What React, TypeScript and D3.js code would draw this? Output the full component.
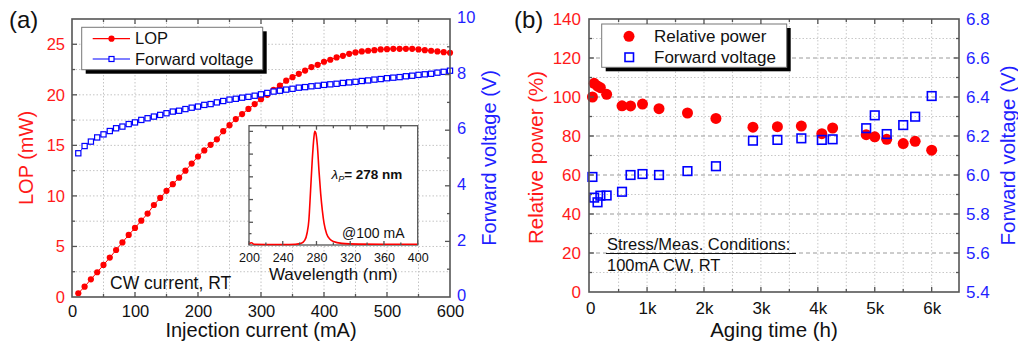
import { useEffect, useRef } from 'react'
import * as d3 from 'd3'

// ---- panel (a): LOP / forward voltage vs injection current ----
const CURRENT_MA = [
  10, 20, 30, 40, 50, 60, 70, 80, 90, 100, 110, 120, 130, 140, 150, 160, 170, 180, 190, 200,
  210, 220, 230, 240, 250, 260, 270, 280, 290, 300, 310, 320, 330, 340, 350, 360, 370, 380, 390, 400,
  410, 420, 430, 440, 450, 460, 470, 480, 490, 500, 510, 520, 530, 540, 550, 560, 570, 580, 590, 600,
]
const LOP_MW = [
  0.37, 1.02, 1.75, 2.45, 3.17, 3.9, 4.65, 5.4, 6.14, 6.83, 7.55, 8.25, 9.1, 9.8, 10.5, 11.16, 11.8, 12.5, 13.2, 13.9,
  14.5, 15.05, 15.6, 16.4, 17.0, 17.6, 18.1, 18.6, 19.08, 19.57, 20.0, 20.5, 20.9, 21.4, 21.75, 22.08, 22.4, 22.74, 22.97, 23.27,
  23.47, 23.7, 23.86, 24.06, 24.19, 24.29, 24.36, 24.42, 24.49, 24.52, 24.55, 24.55, 24.55, 24.55, 24.49, 24.42, 24.36, 24.29, 24.22, 24.16,
]
const FWD_V = [
  5.17, 5.43, 5.59, 5.74, 5.85, 5.97, 6.07, 6.13, 6.22, 6.28, 6.37, 6.43, 6.49, 6.55, 6.61, 6.67, 6.7, 6.76, 6.81, 6.85,
  6.91, 6.94, 7.0, 7.05, 7.1, 7.13, 7.17, 7.2, 7.24, 7.29, 7.34, 7.39, 7.42, 7.46, 7.49, 7.53, 7.55, 7.58, 7.6, 7.63,
  7.65, 7.67, 7.7, 7.72, 7.74, 7.77, 7.79, 7.82, 7.84, 7.87, 7.89, 7.91, 7.94, 7.96, 7.99, 8.01, 8.03, 8.07, 8.1, 8.14,
]

// inset spectrum @100 mA (normalised)
const SPEC_WL = [200, 203, 206, 220, 240, 255, 262, 266, 269, 271, 273, 275, 277, 278, 279, 281, 283, 285, 287, 289, 292, 296, 300, 310, 330, 360, 400]
const SPEC_INT = [0.01, 0.02, 0.006, 0.005, 0.005, 0.007, 0.015, 0.04, 0.11, 0.22, 0.48, 0.75, 0.95, 1.0, 0.99, 0.88, 0.65, 0.45, 0.3, 0.19, 0.1, 0.05, 0.03, 0.014, 0.008, 0.006, 0.006]

// ---- panel (b): aging ----
const AGING_H = [40, 70, 130, 180, 290, 560, 710, 920, 1210, 1710, 2210, 2860, 3290, 3710, 4070, 4260, 4850, 5000, 5210, 5500, 5710, 6000]
const REL_POWER = [100, 107, 105.6, 104.8, 101.4, 95.5, 95.4, 96.4, 94, 91.8, 89, 84.5, 84.8, 85.1, 81.2, 84.1, 80.7, 79.6, 78.3, 76.1, 77.3, 72.7]
const AGING_VF = [5.99, 5.884, 5.86, 5.894, 5.895, 5.914, 6.0, 6.005, 6.0, 6.02, 6.045, 6.176, 6.18, 6.188, 6.18, 6.183, 6.24, 6.306, 6.21, 6.256, 6.299, 6.405]

const FONT = '"Liberation Sans", Arial, Helvetica, sans-serif'
const RED = '#ff0000'
const BLUE = '#0000ff'
const TXT_RED = '#ff1a1a'
const TXT_BLUE = '#1f1fff'
const AX = '#555'

type Sel = d3.Selection<SVGGElement, unknown, null, undefined>

// inward tick lines (no labels)
function tickLines(g: Sel, scale: (v: number) => number, vals: number[], side: string, at: number, len: number) {
  vals.forEach(v => {
    const p = scale(v)
    const l = g.append('line').attr('stroke', AX).attr('stroke-width', 1.3)
    if (side === 'left') l.attr('x1', at).attr('x2', at + len).attr('y1', p).attr('y2', p)
    if (side === 'right') l.attr('x1', at).attr('x2', at - len).attr('y1', p).attr('y2', p)
    if (side === 'bottom') l.attr('y1', at).attr('y2', at - len).attr('x1', p).attr('x2', p)
    if (side === 'top') l.attr('y1', at).attr('y2', at + len).attr('x1', p).attr('x2', p)
  })
}

function labelAxis(g: Sel, axis: d3.Axis<d3.NumberValue>, tr: string, color: string, size: number) {
  g.append('g').attr('transform', tr).call(axis as any)
    .call(ax => {
      ax.select('.domain').remove()
      ax.selectAll('.tick line').remove()
      ax.selectAll('.tick text').attr('font-family', FONT).attr('font-size', size).attr('fill', color)
    })
}

function drawPanelA(svg: d3.Selection<SVGSVGElement, unknown, null, undefined>) {
  const L = 72, R = 450, T = 19, B = 297
  const x = d3.scaleLinear().domain([0, 600]).range([L, R])
  const yL = d3.scaleLinear().domain([0, 27.5]).range([B, T])
  const yR = d3.scaleLinear().domain([0, 10]).range([B, T])
  const g = svg.append('g')

  // grid
  d3.range(50, 600, 50).forEach(v => {
    g.append('line').attr('x1', x(v)).attr('x2', x(v)).attr('y1', T).attr('y2', B)
      .attr('stroke', '#c4c4c4').attr('stroke-dasharray', '1.5 2')
  })
  d3.range(2.5, 27.5, 2.5).forEach(v => {
    g.append('line').attr('x1', L).attr('x2', R).attr('y1', yL(v)).attr('y2', yL(v))
      .attr('stroke', '#c4c4c4').attr('stroke-dasharray', '1.5 2')
  })

  // inset
  const iL = 249, iR = 417.7, iT = 125.7, iB = 245
  const ix = d3.scaleLinear().domain([200, 400]).range([iL, iR])
  const iy = d3.scaleLinear().domain([0, 1.05]).range([iB, iT])
  g.append('rect').attr('x', iL).attr('y', iT).attr('width', iR - iL).attr('height', iB - iT)
    .attr('fill', '#fff').attr('stroke', AX).attr('stroke-width', 1.3)
  const spec = SPEC_WL.map((w, i) => [w, SPEC_INT[i]] as [number, number])
  g.append('path').attr('d', d3.line<[number, number]>().x(d => ix(d[0])).y(d => iy(d[1])).curve(d3.curveMonotoneX)(spec)!)
    .attr('fill', 'none').attr('stroke', RED).attr('stroke-width', 1.6)
  tickLines(g, ix, [200, 240, 280, 320, 360, 400], 'bottom', iB, 4)
  tickLines(g, ix, [220, 260, 300, 340, 380], 'bottom', iB, 2.5)
  tickLines(g, ix, [240, 280, 320, 360], 'top', iT, 4)
  tickLines(g, ix, [220, 260, 300, 340, 380], 'top', iT, 2.5)
  tickLines(g, iy, [0.2, 0.4, 0.6, 0.8, 1.0], 'left', iL, 4)
  tickLines(g, iy, [0.1, 0.3, 0.5, 0.7, 0.9], 'left', iL, 2.5)
  labelAxis(g, d3.axisBottom(ix).tickValues([200, 240, 280, 320, 360, 400]).tickSize(0).tickPadding(8).tickFormat(d3.format('d')),
    `translate(0,${iB})`, '#111', 12.5)
  g.append('text').attr('x', (iL + iR) / 2).attr('y', 279.5).attr('text-anchor', 'middle')
    .attr('font-family', FONT).attr('font-size', 17).attr('fill', '#111').text('Wavelength (nm)')
  const lam = g.append('text').attr('x', 331.5).attr('y', 179).attr('font-family', FONT).attr('font-size', 13.5).attr('fill', '#111')
  lam.append('tspan').attr('font-style', 'italic').text('λ')
  lam.append('tspan').attr('font-style', 'italic').attr('font-size', 9).attr('dy', 3).text('P')
  lam.append('tspan').attr('font-weight', 700).attr('dy', -3).text('= 278 nm')
  g.append('text').attr('x', 404.5).attr('y', 237.5).attr('text-anchor', 'end')
    .attr('font-family', FONT).attr('font-size', 14).attr('fill', '#111').text('@100 mA')

  // LOP series
  const lop = CURRENT_MA.map((c, i) => [c, LOP_MW[i]] as [number, number])
  g.append('path').attr('d', d3.line<[number, number]>().x(d => x(d[0])).y(d => yL(d[1]))(lop)!)
    .attr('fill', 'none').attr('stroke', RED).attr('stroke-width', 1)
  g.selectAll('.lop').data(lop).enter().append('circle')
    .attr('cx', d => x(d[0])).attr('cy', d => yL(d[1])).attr('r', 3.1).attr('fill', RED)

  // forward voltage series
  const fv = CURRENT_MA.map((c, i) => [c, FWD_V[i]] as [number, number])
  g.append('path').attr('d', d3.line<[number, number]>().x(d => x(d[0])).y(d => yR(d[1]))(fv)!)
    .attr('fill', 'none').attr('stroke', BLUE).attr('stroke-width', 0.8)
  g.selectAll('.fv').data(fv).enter().append('rect')
    .attr('x', d => x(d[0]) - 2.6).attr('y', d => yR(d[1]) - 2.6).attr('width', 5.2).attr('height', 5.2)
    .attr('fill', '#fff').attr('stroke', BLUE).attr('stroke-width', 1.2)

  // frame + ticks
  g.append('rect').attr('x', L).attr('y', T).attr('width', R - L).attr('height', B - T)
    .attr('fill', 'none').attr('stroke', AX).attr('stroke-width', 1.6)
  tickLines(g, x, d3.range(100, 600, 100), 'bottom', B, 5)
  tickLines(g, x, d3.range(50, 600, 100), 'bottom', B, 3)
  tickLines(g, x, d3.range(100, 600, 100), 'top', T, 5)
  tickLines(g, x, d3.range(50, 600, 100), 'top', T, 3)
  tickLines(g, yL, [5, 10, 15, 20, 25], 'left', L, 5)
  tickLines(g, yL, [2.5, 7.5, 12.5, 17.5, 22.5], 'left', L, 3)
  tickLines(g, yR, [2, 4, 6, 8], 'right', R, 5)
  tickLines(g, yR, [1, 3, 5, 7, 9], 'right', R, 3)

  labelAxis(g, d3.axisBottom(x).tickValues(d3.range(0, 700, 100)).tickSize(0).tickPadding(8.5),
    `translate(0,${B})`, '#111', 16.5)
  labelAxis(g, d3.axisLeft(yL).tickValues([0, 5, 10, 15, 20, 25]).tickSize(0).tickPadding(7),
    `translate(${L},0)`, TXT_RED, 16.5)
  labelAxis(g, d3.axisRight(yR).tickValues([0, 2, 4, 6, 8, 10]).tickSize(0).tickPadding(7),
    `translate(${R},-1.5)`, TXT_BLUE, 16.5)

  g.append('text').attr('x', (L + R) / 2).attr('y', 337).attr('text-anchor', 'middle')
    .attr('font-family', FONT).attr('font-size', 20).attr('fill', '#111').text('Injection current (mA)')
  g.append('text').attr('transform', `translate(26,${(T + B) / 2}) rotate(-90)`).attr('text-anchor', 'middle')
    .attr('dominant-baseline', 'central').attr('font-family', FONT).attr('font-size', 20).attr('fill', TXT_RED).text('LOP (mW)')
  g.append('text').attr('transform', `translate(489,${(T + B) / 2}) rotate(-90)`).attr('text-anchor', 'middle')
    .attr('dominant-baseline', 'central').attr('font-family', FONT).attr('font-size', 20).attr('fill', TXT_BLUE).text('Forward voltage (V)')

  g.append('text').attr('x', 110).attr('y', 288.5).attr('font-family', FONT).attr('font-size', 17.5)
    .attr('fill', '#111').text('CW current, RT')

  // legend
  const lx = 81.7, ly = 27.3, lw = 181, lh = 42.4
  g.append('rect').attr('x', lx + 4).attr('y', ly + 4).attr('width', lw).attr('height', lh).attr('fill', '#000')
  g.append('rect').attr('x', lx).attr('y', ly).attr('width', lw).attr('height', lh)
    .attr('fill', '#fff').attr('stroke', '#777').attr('stroke-width', 1)
  const rows = [
    { label: 'LOP', color: RED, y: 38.7 },
    { label: 'Forward voltage', color: BLUE, y: 59 },
  ]
  rows.forEach((r, i) => {
    g.append('line').attr('x1', 92.7).attr('x2', 130).attr('y1', r.y).attr('y2', r.y).attr('stroke', r.color).attr('stroke-width', 1.2)
    if (i === 0) g.append('circle').attr('cx', 111.5).attr('cy', r.y).attr('r', 3.1).attr('fill', RED)
    else g.append('rect').attr('x', 109).attr('y', r.y - 2.5).attr('width', 5).attr('height', 5)
      .attr('fill', '#fff').attr('stroke', BLUE).attr('stroke-width', 1.2)
    g.append('text').attr('x', 135).attr('y', r.y).attr('dy', '0.35em').attr('font-family', FONT)
      .attr('font-size', 16.5).attr('fill', '#111').text(r.label)
  })

  g.append('text').attr('x', 9).attr('y', 28).attr('font-family', FONT).attr('font-size', 24).attr('fill', '#111').text('(a)')
}

function drawPanelB(svg: d3.Selection<SVGSVGElement, unknown, null, undefined>) {
  const L = 589, R = 959, T = 19, B = 292
  const x = d3.scaleLinear().domain([-20, 6480]).range([L, R])
  const yL = d3.scaleLinear().domain([0, 140]).range([B, T])
  const yR = d3.scaleLinear().domain([5.4, 6.8]).range([B, T])
  const g = svg.append('g')

  d3.range(500, 6500, 500).forEach(v => {
    g.append('line').attr('x1', x(v)).attr('x2', x(v)).attr('y1', T).attr('y2', B)
      .attr('stroke', '#c8c8c8').attr('stroke-dasharray', '1.5 2')
  })
  d3.range(10, 140, 10).forEach(v => {
    const major = v % 20 === 0
    g.append('line').attr('x1', L).attr('x2', R).attr('y1', yL(v)).attr('y2', yL(v))
      .attr('stroke', major ? '#9a9a9a' : '#c8c8c8').attr('stroke-dasharray', major ? '4 3' : '1.5 2')
  })

  // legend
  const lx = 601.7, ly = 24, lw = 185, lh = 43.3
  g.append('rect').attr('x', lx + 4).attr('y', ly + 4).attr('width', lw).attr('height', lh).attr('fill', '#000')
  g.append('rect').attr('x', lx).attr('y', ly).attr('width', lw).attr('height', lh)
    .attr('fill', '#fff').attr('stroke', '#777').attr('stroke-width', 1)
  g.append('circle').attr('cx', 629).attr('cy', 36.3).attr('r', 5.5).attr('fill', RED)
  g.append('rect').attr('x', 625).attr('y', 53).attr('width', 8.5).attr('height', 8.5)
    .attr('fill', 'none').attr('stroke', BLUE).attr('stroke-width', 1.6)
  g.append('text').attr('x', 654).attr('y', 36.3).attr('dy', '0.35em').attr('font-family', FONT)
    .attr('font-size', 17).attr('fill', '#111').text('Relative power')
  g.append('text').attr('x', 654).attr('y', 57.3).attr('dy', '0.35em').attr('font-family', FONT)
    .attr('font-size', 17).attr('fill', '#111').text('Forward voltage')

  // conditions note
  g.append('text').attr('x', 607).attr('y', 250).attr('font-family', FONT).attr('font-size', 16.5)
    .attr('fill', '#111').text('Stress/Meas. Conditions:')
  g.append('line').attr('x1', 606).attr('x2', 796).attr('y1', 253.5).attr('y2', 253.5).attr('stroke', '#111').attr('stroke-width', 1)
  g.append('text').attr('x', 607).attr('y', 270.5).attr('font-family', FONT).attr('font-size', 16.5)
    .attr('fill', '#111').text('100mA CW, RT')

  // data
  g.selectAll('.rp').data(AGING_H).enter().append('circle')
    .attr('cx', d => x(d)).attr('cy', (_, i) => yL(REL_POWER[i])).attr('r', 5.5).attr('fill', RED)
  g.selectAll('.vf').data(AGING_H).enter().append('rect')
    .attr('x', d => x(d) - 4.3).attr('y', (_, i) => yR(AGING_VF[i]) - 4.3).attr('width', 8.6).attr('height', 8.6)
    .attr('fill', 'none').attr('stroke', BLUE).attr('stroke-width', 1.6)

  // frame + ticks
  g.append('rect').attr('x', L).attr('y', T).attr('width', R - L).attr('height', B - T)
    .attr('fill', 'none').attr('stroke', AX).attr('stroke-width', 1.6)
  tickLines(g, x, d3.range(1000, 7000, 1000), 'bottom', B, 5)
  tickLines(g, x, d3.range(500, 6500, 1000), 'bottom', B, 3)
  tickLines(g, x, d3.range(1000, 7000, 1000), 'top', T, 5)
  tickLines(g, x, d3.range(500, 6500, 1000), 'top', T, 3)
  tickLines(g, yL, d3.range(20, 140, 20), 'left', L, 5)
  tickLines(g, yL, d3.range(10, 140, 20), 'left', L, 3)
  tickLines(g, yR, [5.6, 5.8, 6.0, 6.2, 6.4, 6.6], 'right', R, 5)
  tickLines(g, yR, [5.5, 5.7, 5.9, 6.1, 6.3, 6.5, 6.7], 'right', R, 3)

  labelAxis(g, d3.axisBottom(x).tickValues(d3.range(0, 7000, 1000)).tickSize(0).tickPadding(10)
    .tickFormat(v => (+v === 0 ? '0' : `${+v / 1000}k`)), `translate(0,${B})`, '#111', 17)
  labelAxis(g, d3.axisLeft(yL).tickValues(d3.range(0, 160, 20)).tickSize(0).tickPadding(8),
    `translate(${L},0)`, TXT_RED, 17)
  labelAxis(g, d3.axisRight(yR).tickValues([5.4, 5.6, 5.8, 6.0, 6.2, 6.4, 6.6, 6.8]).tickSize(0).tickPadding(7)
    .tickFormat(d3.format('.1f')), `translate(${R},0)`, TXT_BLUE, 17)

  g.append('text').attr('x', (L + R) / 2).attr('y', 337).attr('text-anchor', 'middle')
    .attr('font-family', FONT).attr('font-size', 20.5).attr('fill', '#111').text('Aging time (h)')
  g.append('text').attr('transform', `translate(535,${(T + B) / 2 + 2}) rotate(-90)`).attr('text-anchor', 'middle')
    .attr('dominant-baseline', 'central').attr('font-family', FONT).attr('font-size', 20.5).attr('fill', TXT_RED).text('Relative power (%)')
  g.append('text').attr('transform', `translate(1007.5,${(T + B) / 2}) rotate(-90)`).attr('text-anchor', 'middle')
    .attr('dominant-baseline', 'central').attr('font-family', FONT).attr('font-size', 20.5).attr('fill', TXT_BLUE).text('Forward voltage (V)')

  g.append('text').attr('x', 514).attr('y', 28).attr('font-family', FONT).attr('font-size', 24).attr('fill', '#111').text('(b)')
}

export default function App() {
  const ref = useRef<SVGSVGElement>(null)
  useEffect(() => {
    if (!ref.current) return
    const svg = d3.select(ref.current)
    svg.selectAll('*').remove()
    drawPanelA(svg)
    drawPanelB(svg)
  }, [])
  return (
    <svg ref={ref} width={1018} height={349}
      style={{ position: 'absolute', left: 0, top: 0, background: '#fff', display: 'block' }} />
  )
}
